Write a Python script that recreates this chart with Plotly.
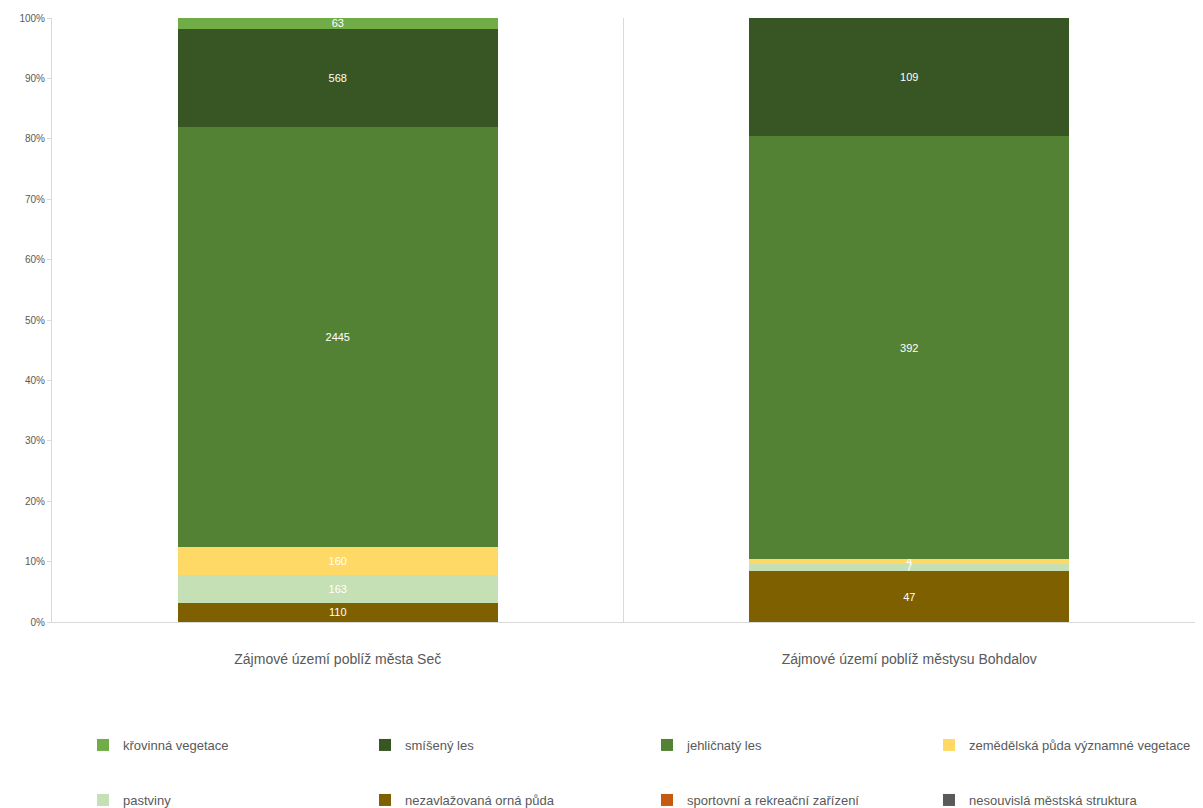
import plotly.graph_objects as go

categories = ["Zájmové území poblíž města Seč", "Zájmové území poblíž městysu Bohdalov"]

# series listed bottom-up in stack order
series_names = [
    "nesouvislá městská struktura",
    "sportovní a rekreační zařízení",
    "nezavlažovaná orná půda",
    "pastviny",
    "zemědělská půda významné vegetace",
    "jehličnatý les",
    "smíšený les",
    "křovinná vegetace",
]
nesouvisla = [1, 0]
sportovni = [0, 0]
nezavlazovana = [110, 47]
pastviny = [163, 7]
zemedelska = [160, 4]
jehlicnaty = [2445, 392]
smiseny = [568, 109]
krovinna = [63, 0]
series_values = [nesouvisla, sportovni, nezavlazovana, pastviny, zemedelska, jehlicnaty, smiseny, krovinna]
colors = ["#595959", "#C55A11", "#7F6000", "#C5E0B4", "#FFD966", "#548235", "#375623", "#70AD47"]
legend_ids = ["legend2", "legend2", "legend2", "legend2", "legend", "legend", "legend", "legend"]

font_family = "Liberation Sans"

fig = go.Figure()
for name, vals, col, lg in zip(series_names, series_values, colors, legend_ids):
    fig.add_trace(go.Bar(
        x=categories, y=vals, name=name, marker_color=col,
        marker_line_width=0,
        text=[str(v) for v in vals], textposition="inside",
        insidetextanchor="middle", textangle=0,
        textfont=dict(color="white", size=11, family=font_family),
        legend=lg,
    ))

leg_common = dict(orientation="h", xanchor="left", yanchor="middle",
                  xref="container", yref="container",
                  traceorder="reversed", entrywidth=237, entrywidthmode="pixels",
                  font=dict(size=13, color="#595959", family=font_family),
                  itemwidth=30, bgcolor="rgba(0,0,0,0)")

fig.update_layout(
    width=1203, height=808,
    barmode="stack", barnorm="percent", bargap=0.44,
    paper_bgcolor="white", plot_bgcolor="white",
    margin=dict(l=52, r=8, t=18, b=186, autoexpand=False),
    uniformtext=dict(minsize=10, mode="show"),
    font=dict(family=font_family),
    legend=dict(x=0.069, y=1 - 745 / 808, **leg_common),
    legend2=dict(x=0.069, y=1 - 800 / 808, **leg_common),
    xaxis=dict(showline=True, linecolor="#D9D9D9", linewidth=1, automargin=False,
               tickfont=dict(size=14, color="#595959"), ticks="", showgrid=False,
               ticklabelstandoff=24),
    yaxis=dict(range=[0, 100], dtick=10, ticksuffix="%", showgrid=False, automargin=False,
               showline=True, linecolor="#D9D9D9", ticks="outside", ticklen=4,
               tickcolor="#D9D9D9", tickfont=dict(size=10, color="#595959")),
    shapes=[dict(type="line", xref="x", yref="paper", x0=0.5, x1=0.5, y0=0, y1=1,
                 line=dict(color="#D9D9D9", width=1))],
)

fig.write_html("out.html", config={"displayModeBar": False},
               post_script="document.body.style.margin='0px';document.body.style.overflow='hidden';")
